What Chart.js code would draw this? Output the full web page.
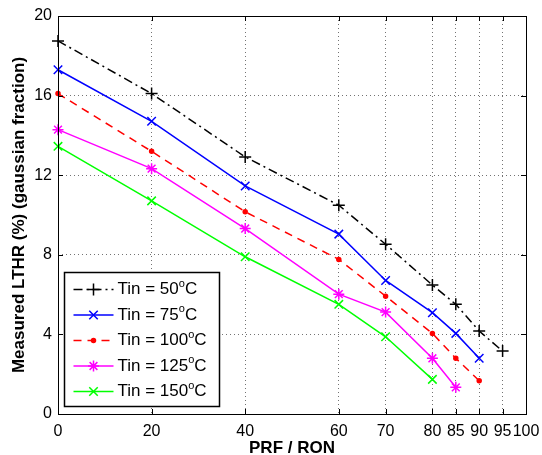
<!DOCTYPE html>
<html>
<head>
<meta charset="utf-8">
<script src="https://cdn.jsdelivr.net/npm/chart.js@4.4.1/dist/chart.umd.min.js"></script>
<style>
    html, body { margin: 0; padding: 0; background: #fff; }
    #wrap { width: 542px; height: 455px; position: relative; }
</style>
</head>
<body>
<div id="wrap"><canvas id="lthrChart"></canvas></div>
<script>
// PRF / RON values at which LTHR was measured
const prfValues = [0, 20, 40, 60, 70, 80, 85, 90, 95];
const xTickValues = [0, 20, 40, 60, 70, 80, 85, 90, 95, 100];
const yTickValues = [0, 4, 8, 12, 16, 20];

// Measured LTHR (%) for each intake temperature, same order as prfValues
const tin50 = [18.75, 16.1, 12.92, 10.49, 8.53, 6.48, 5.51, 4.17, 3.16];
const tin75 = [17.3, 14.71, 11.46, 9.04, 6.71, 5.09, 4.05, 2.8];
const tin100 = [16.1, 13.2, 10.16, 7.77, 5.92, 4.05, 2.8, 1.67];
const tin125 = [14.29, 12.33, 9.32, 6.02, 5.12, 2.8, 1.34];
const tin150 = [13.45, 10.71, 7.9, 5.51, 3.88, 1.74];
const tinLabels = ['50', '75', '100', '125', '150'];

const FONT = '"Liberation Sans", Arial, Helvetica, sans-serif';

function toPoints(values) {
    return values.map((v, i) => ({ x: prfValues[i], y: v }));
}

function makeSet(label, values, color, style, radius, dash) {
    return {
        label: label,
        data: toPoints(values),
        borderColor: color,
        backgroundColor: color,
        borderWidth: 1.5,
        borderDash: dash,
        pointStyle: style,
        pointRadius: radius,
        pointHoverRadius: radius,
        pointBorderWidth: 1.5,
        pointBorderColor: color,
        pointBackgroundColor: color,
        clip: false,
        tension: 0
    };
}

const datasets = [
    makeSet(tinLabels[0], tin50, '#000000', 'cross', 6, [9, 4, 2, 4]),
    makeSet(tinLabels[1], tin75, '#0000ff', 'crossRot', 6, []),
    makeSet(tinLabels[2], tin100, '#ff0000', 'circle', 2, [8, 6]),
    makeSet(tinLabels[3], tin125, '#ff00ff', 'star', 5.5, []),
    makeSet(tinLabels[4], tin150, '#00ff00', 'crossRot', 6, [])
];

// frame, inward tick marks and the boxed legend, drawn like the MATLAB original
const framePlugin = {
    id: 'framePlugin',
    afterDraw(chart) {
        const ctx = chart.ctx;
        const area = chart.chartArea;
        const xs = chart.scales.x;
        const ys = chart.scales.y;
        const tick = 5;

        ctx.save();
        ctx.strokeStyle = '#000';
        ctx.lineWidth = 1;
        ctx.setLineDash([]);
        ctx.strokeRect(area.left + 0.5, area.top + 0.5, area.right - area.left, area.bottom - area.top);

        ctx.beginPath();
        xTickValues.forEach(v => {
            const px = Math.round(xs.getPixelForValue(v)) + 0.5;
            ctx.moveTo(px, area.bottom);
            ctx.lineTo(px, area.bottom - tick);
            ctx.moveTo(px, area.top);
            ctx.lineTo(px, area.top + tick);
        });
        yTickValues.forEach(v => {
            const py = Math.round(ys.getPixelForValue(v)) + 0.5;
            ctx.moveTo(area.left, py);
            ctx.lineTo(area.left + tick, py);
            ctx.moveTo(area.right, py);
            ctx.lineTo(area.right - tick, py);
        });
        ctx.stroke();

        // legend box
        const boxLeft = area.left + 6.5;
        const boxTop = area.bottom - 141.5;
        const boxW = 155;
        const boxH = 134;
        ctx.fillStyle = '#fff';
        ctx.fillRect(boxLeft, boxTop, boxW, boxH);
        ctx.strokeStyle = '#000';
        ctx.lineWidth = 1.5;
        ctx.strokeRect(boxLeft, boxTop, boxW, boxH);

        const rowH = 25.5;
        datasets.forEach((ds, i) => {
            const cy = boxTop + 17 + i * rowH;
            const x0 = boxLeft + 9;
            const x1 = boxLeft + 49;
            ctx.strokeStyle = ds.borderColor;
            ctx.fillStyle = ds.borderColor;
            ctx.lineWidth = ds.borderWidth;
            ctx.setLineDash(ds.borderDash);
            ctx.beginPath();
            ctx.moveTo(x0, cy);
            ctx.lineTo(x1, cy);
            ctx.stroke();
            ctx.setLineDash([]);
            ctx.lineWidth = ds.pointBorderWidth;
            Chart.helpers.drawPoint(ctx, {
                pointStyle: ds.pointStyle,
                radius: ds.pointRadius,
                rotation: 0,
                borderWidth: ds.pointBorderWidth
            }, (x0 + x1) / 2, cy);

            ctx.fillStyle = '#000';
            ctx.textBaseline = 'middle';
            ctx.textAlign = 'left';
            ctx.font = '17px ' + FONT;
            let tx = x1 + 4;
            const main = 'Tin = ' + ds.label;
            ctx.fillText(main, tx, cy);
            tx += ctx.measureText(main).width;
            ctx.font = '11px ' + FONT;
            ctx.fillText('o', tx, cy - 6);
            tx += ctx.measureText('o').width;
            ctx.font = '17px ' + FONT;
            ctx.fillText('C', tx, cy);
        });
        ctx.restore();
    }
};

new Chart(document.getElementById('lthrChart').getContext('2d'), {
    type: 'line',
    data: { datasets: datasets },
    options: {
        responsive: true,
        maintainAspectRatio: false,
        animation: false,
        events: [],
        layout: {
            padding: { left: 0, right: 16, top: 16, bottom: 0 }
        },
        plugins: {
            legend: { display: false },
            tooltip: { enabled: false }
        },
        scales: {
            x: {
                type: 'linear',
                min: 0,
                max: 100,
                afterBuildTicks: function(scale) {
                    scale.ticks = xTickValues.map(v => ({ value: v }));
                },
                afterFit: function(scale) {
                    scale.height = 41;
                    scale.paddingLeft = 0;
                    scale.paddingRight = 0;
                },
                ticks: {
                    autoSkip: false,
                    maxRotation: 0,
                    padding: 8,
                    color: '#000',
                    font: { family: FONT, size: 16 }
                },
                grid: {
                    color: 'rgba(0, 0, 0, 0.55)',
                    lineWidth: 1,
                    drawTicks: false
                },
                border: { display: false, dash: [1, 3] },
                title: {
                    display: true,
                    text: 'PRF / RON',
                    color: '#000',
                    padding: { top: 0, bottom: 0 },
                    font: { family: FONT, size: 17, weight: 'bold', lineHeight: 0.8 }
                }
            },
            y: {
                type: 'linear',
                min: 0,
                max: 20,
                afterBuildTicks: function(scale) {
                    scale.ticks = yTickValues.map(v => ({ value: v }));
                },
                afterFit: function(scale) {
                    scale.width = 58;
                    scale.paddingTop = 0;
                    scale.paddingBottom = 0;
                },
                ticks: {
                    padding: 6,
                    color: '#000',
                    font: { family: FONT, size: 16 }
                },
                grid: {
                    color: 'rgba(0, 0, 0, 0.55)',
                    lineWidth: 1,
                    drawTicks: false
                },
                border: { display: false, dash: [1, 3] },
                title: {
                    display: true,
                    text: 'Measured LTHR (%) (gaussian fraction)',
                    color: '#000',
                    padding: { top: 9, bottom: 0 },
                    font: { family: FONT, size: 17, weight: 'bold', lineHeight: 1.2 }
                }
            }
        }
    },
    plugins: [framePlugin]
});
</script>
</body>
</html>
